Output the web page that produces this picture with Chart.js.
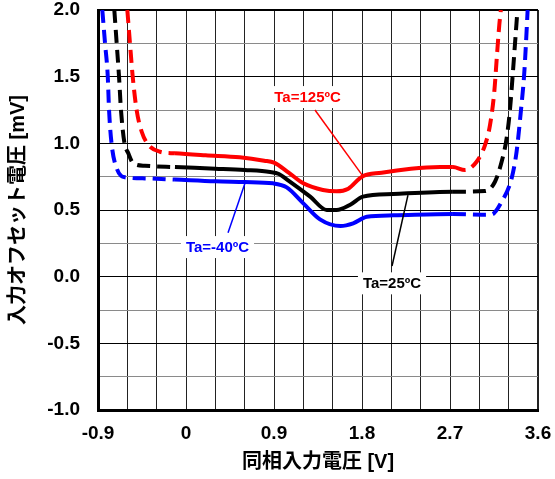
<!DOCTYPE html>
<html>
<head>
<meta charset="utf-8">
<script src="https://cdn.jsdelivr.net/npm/chart.js@4/dist/chart.umd.min.js"></script>
<style>
html,body{margin:0;padding:0;background:#fff;}
#wrap{width:555px;height:479px;}
</style>
</head>
<body>
<div id="wrap"><canvas id="c" width="555" height="479"></canvas></div>
<script>
// ---- Data ----
const redX   = [-0.600,-0.573,-0.545,-0.505,-0.453,-0.386,-0.266,-0.113,0.20,0.55,0.80,0.90,1.05,1.20,1.40,1.54,1.66,1.80,2.00,2.30,2.60,2.73,2.853,2.972,3.058,3.109,3.153,3.178,3.204,3.220];
const redY   = [2.000,1.750,1.500,1.250,1.087,0.990,0.937,0.925,0.91,0.895,0.87,0.855,0.78,0.70,0.65,0.64,0.66,0.75,0.78,0.81,0.822,0.822,0.800,0.862,0.987,1.137,1.387,1.637,1.887,2.000];
const blackX = [-0.733,-0.709,-0.685,-0.665,-0.631,-0.590,-0.539,-0.420,-0.113,0.30,0.60,0.86,0.95,1.03,1.27,1.44,1.54,1.68,1.81,2.12,2.73,3.058,3.160,3.228,3.279,3.313,3.340,3.365,3.390];
const blackY = [2.000,1.750,1.500,1.250,1.010,0.925,0.850,0.832,0.822,0.81,0.80,0.785,0.77,0.73,0.60,0.50,0.50,0.54,0.60,0.62,0.637,0.642,0.712,0.862,1.037,1.250,1.500,1.750,2.000];
const blueX  = [-0.856,-0.828,-0.800,-0.787,-0.760,-0.709,-0.624,-0.420,-0.113,0.30,0.60,0.89,1.03,1.20,1.37,1.58,1.71,1.85,2.12,2.73,3.024,3.126,3.228,3.330,3.381,3.426,3.457,3.477,3.494];
const blueY  = [2.000,1.750,1.500,1.250,0.990,0.813,0.745,0.737,0.728,0.715,0.71,0.70,0.67,0.55,0.43,0.38,0.40,0.45,0.46,0.47,0.465,0.467,0.562,0.737,0.937,1.250,1.500,1.750,2.000];

const xTicks = [-0.9,-0.6,-0.3,0,0.3,0.6,0.9,1.2,1.5,1.8,2.1,2.4,2.7,3.0,3.3,3.6];
const xLabels = {"-0.9":"-0.9","0":"0","0.9":"0.9","1.8":"1.8","2.7":"2.7","3.6":"3.6"};
const yTicks = [-1.0,-0.75,-0.5,-0.25,0,0.25,0.5,0.75,1.0,1.25,1.5,1.75,2.0];
const yLabels = {"-1":"-1.0","-0.5":"-0.5","0":"0.0","0.5":"0.5","1":"1.0","1.5":"1.5","2":"2.0"};

const xTitle = "同相入力電圧 [V]";
const yTitle = "入力オフセット電圧 [mV]";

// annotation labels: text, colour, label centre (data), leader from / to (data)
const notes = [
  {text:"Ta=125ºC", color:"#ff0000", lx:1.243, ly:1.347, x1:1.319, y1:1.25, x2:1.80, y2:0.763},
  {text:"Ta=-40ºC", color:"#0000ff", lx:0.322, ly:0.222, x1:0.43, y1:0.33, x2:0.603, y2:0.70},
  {text:"Ta=25ºC",  color:"#000000", lx:2.107, ly:-0.05, x1:2.107, y1:0.08, x2:2.27, y2:0.612}
];

const zip = (xs, ys) => xs.map((x, i) => ({x, y: ys[i]}));
const dashSeg = ctx => (ctx.p1.parsed.x <= -0.11 || ctx.p0.parsed.x >= 2.72) ? [13, 7] : undefined;

Chart.defaults.font.family = "'Liberation Sans', Arial, 'Noto Sans CJK JP', sans-serif";
Chart.defaults.color = "#000";

function mkSet(label, xs, ys, color) {
  return {
    label, data: zip(xs, ys), borderColor: color, backgroundColor: color,
    borderWidth: 4, pointRadius: 0, fill: false,
    cubicInterpolationMode: 'monotone',
    segment: { borderDash: dashSeg }
  };
}

const notePlugin = {
  id: 'notes',
  afterDatasetsDraw(chart) {
    const {ctx, scales: {x, y}} = chart;
    ctx.save();
    ctx.font = "bold 15px 'Liberation Sans', Arial, sans-serif";
    ctx.textAlign = 'center';
    ctx.textBaseline = 'middle';
    for (const n of notes) {
      ctx.strokeStyle = n.color;
      ctx.lineWidth = 1.5;
      ctx.beginPath();
      ctx.moveTo(x.getPixelForValue(n.x1), y.getPixelForValue(n.y1));
      ctx.lineTo(x.getPixelForValue(n.x2), y.getPixelForValue(n.y2));
      ctx.stroke();
      const cx = x.getPixelForValue(n.lx), cy = y.getPixelForValue(n.ly);
      const w = ctx.measureText(n.text).width;
      ctx.fillStyle = '#fff';
      ctx.fillRect(cx - w/2 - 5, cy - 11, w + 10, 22);
      ctx.fillStyle = n.color;
      ctx.fillText(n.text, cx, cy + 1);
    }
    ctx.restore();
  }
};

const isMajorY = v => Object.prototype.hasOwnProperty.call(yLabels, String(+v.toFixed(2)));
const zeroPad = s => { s.paddingTop = 0; s.paddingBottom = 0; s.paddingLeft = 0; s.paddingRight = 0; };

new Chart(document.getElementById('c'), {
  type: 'line',
  data: { datasets: [
    mkSet('Ta=125ºC', redX, redY, '#ff0000'),
    mkSet('Ta=25ºC', blackX, blackY, '#000000'),
    mkSet('Ta=-40ºC', blueX, blueY, '#0000ff')
  ]},
  options: {
    responsive: false, animation: false, devicePixelRatio: 1,
    layout: { padding: { top: 10, right: 17, left: 0, bottom: 0 } },
    plugins: { legend: { display: false }, tooltip: { enabled: false } },
    scales: {
      x: {
        type: 'linear', min: -0.9, max: 3.6,
        afterBuildTicks: s => { s.ticks = xTicks.map(v => ({value: v})); },
        afterFit: s => { s.height = 69; zeroPad(s); },
        grid: {
          drawTicks: false,
          color: '#222',
          lineWidth: c => (c.tick && Math.abs(c.tick.value - 3.6) < 1e-6) ? 2 : 1
        },
        border: { color: '#000', width: 3 },
        ticks: {
          padding: 12, autoSkip: false, maxRotation: 0,
          font: { size: 19, weight: 'bold' },
          callback: v => { const k = String(+(+v).toFixed(2)); return xLabels[k] !== undefined ? xLabels[k] : ''; }
        },
        title: { display: true, text: xTitle, font: { size: 20, weight: 'bold' }, padding: { top: 0, bottom: 5 } }
      },
      y: {
        type: 'linear', min: -1.0, max: 2.0,
        afterBuildTicks: s => { s.ticks = yTicks.map(v => ({value: v})); },
        afterFit: s => { s.width = 98; zeroPad(s); },
        grid: {
          drawTicks: false,
          color: c => (c.tick && isMajorY(c.tick.value)) ? '#000' : '#8a8a8a',
          lineWidth: c => (c.tick && Math.abs(c.tick.value - 2.0) < 1e-6) ? 2 : 1
        },
        border: { color: '#000', width: 3 },
        ticks: {
          padding: 18, autoSkip: false,
          font: { size: 19, weight: 'bold' },
          callback: v => { const k = String(+(+v).toFixed(2)); return yLabels[k] !== undefined ? yLabels[k] : ''; }
        },
        title: { display: true, text: yTitle, font: { size: 20, weight: 'bold' }, padding: { top: 6, bottom: 0 } }
      }
    }
  },
  plugins: [notePlugin]
});
</script>
</body>
</html>
